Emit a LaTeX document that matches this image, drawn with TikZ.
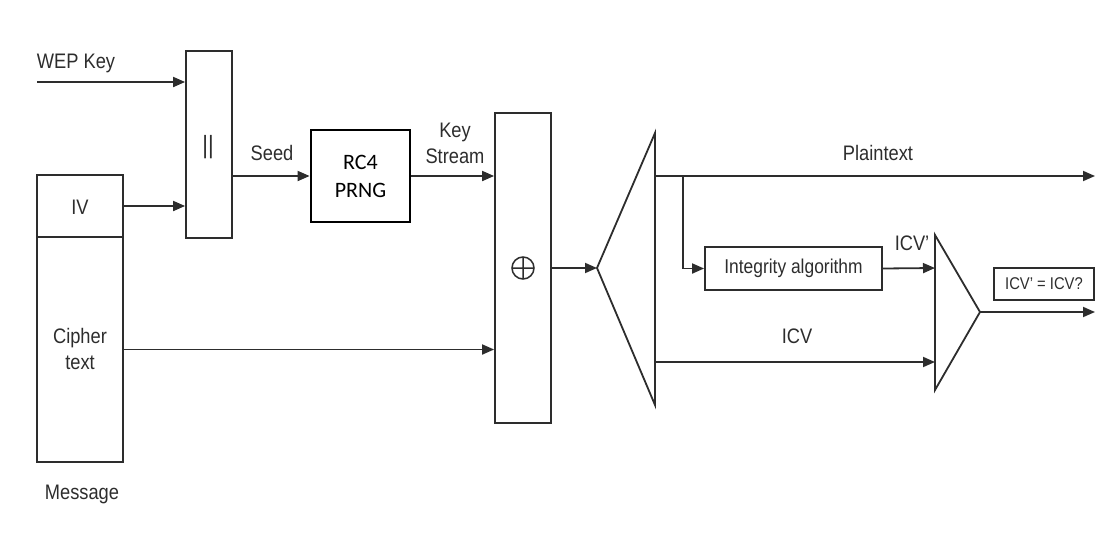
\documentclass[tikz,border=0pt]{standalone}
\usepackage{fontspec}
\setmainfont[FakeStretch=0.87]{Liberation Sans}
\newfontfamily\calfont{Carlito}
\usepackage{tikz}
\usetikzlibrary{arrows.meta}
\definecolor{ln}{RGB}{45,45,45}
\tikzstyle{es} = [-{Triangle[length=12pt,width=10pt]}]
\tikzstyle{blk} = [draw=ln, line width=1.8pt, inner sep=0pt, text=ln]
\tikzstyle{lbl} = [text=ln, font=\fontsize{21}{26}\selectfont, align=center, inner sep=0pt]

\begin{document}
\begin{tikzpicture}[x=1pt,y=-1pt,line width=1.8pt,draw=ln]
			\useasboundingbox (0,0) rectangle (1120,557);
			% blocks
			\node[blk,minimum width=86pt,minimum height=62pt] (iv) at (80,206) {};
			\node[lbl] at (80,207) {IV};
			\node[blk,minimum width=86pt,minimum height=225pt] (ct) at (80,349.5) {};
			\node[lbl] at (80,349) {Cipher\\text};
			\node[lbl] (msg) at (82,494) {Message};
			\node[blk,minimum width=46pt,minimum height=187pt] (cat) at (209,144.5) {};
			\node[lbl,font=\fontsize{25}{26}\selectfont] at (208,147) {||};
			\node[blk,line width=2.8pt,draw=black,minimum width=99pt,minimum height=92pt,align=center,font=\calfont\fontsize{22}{28}\selectfont,text=black] (rc4) at (360.5,176) {RC4\\PRNG};
			\node[blk,minimum width=56pt,minimum height=310pt] (xor) at (523,268) {};
			\draw[line width=1.5pt] (xor.center) circle (11pt) ++(-11pt,0) -- ++(22pt,0) (xor.center) ++(0,-11pt) -- ++(0,22pt);
			\node[blk,minimum width=177pt,minimum height=43pt,font=\fontsize{20}{24}\selectfont] (integ) at (793.5,268.5) {Integrity algorithm};
			\node[blk,minimum width=100pt,minimum height=32pt,font=\fontsize{17}{20}\selectfont] (cmpres) at (1044,284) {ICV' = ICV?};
			% demux and compare
			\coordinate (dmx) at (597,268);
			\draw (655,133) -- (dmx) -- (655,405) -- cycle;
			\coordinate (cmp) at (980,312);
			\draw (935,235) -- (cmp) -- (935,390) -- cycle;
			% connectors
			\coordinate (wep) at (37,82);
			\node[lbl] at (76,63) {WEP Key};
			\draw[es] (wep) -- (wep -| cat.west);
			\draw[es] (iv.east) -- (iv.east -| cat.west);
			\draw[es] (cat.east |- rc4.west) -- (rc4.west);
			\node[lbl] at (272,153) {Seed};
			\draw[es] (rc4.east) -- (rc4.east -| xor.west);
			\node[lbl] at (455,143) {Key\\Stream};
			\draw[es] (ct.east) -- (ct.east -| xor.west);
			\draw[es] (xor.east |- dmx) -- (dmx);
			\coordinate (pt) at (655,176);
			\coordinate (ptend) at (1095,176);
			\draw[es] (pt) -- (ptend);
			\node[lbl] at (878,153) {Plaintext};
			\coordinate (br) at (683,176);
			\draw[es] (br) |- (integ.west);
			\draw[es] (integ.east) -- (935,268);
			\node[lbl] at (912,243) {ICV'};
			\coordinate (icv) at (655,362);
			\draw[es] (icv) -- (935,362);
			\node[lbl] at (797,336) {ICV};
			\coordinate (out) at (1095,312);
			\draw[es] (cmp) -- (out);
		\end{tikzpicture}
\end{document}
